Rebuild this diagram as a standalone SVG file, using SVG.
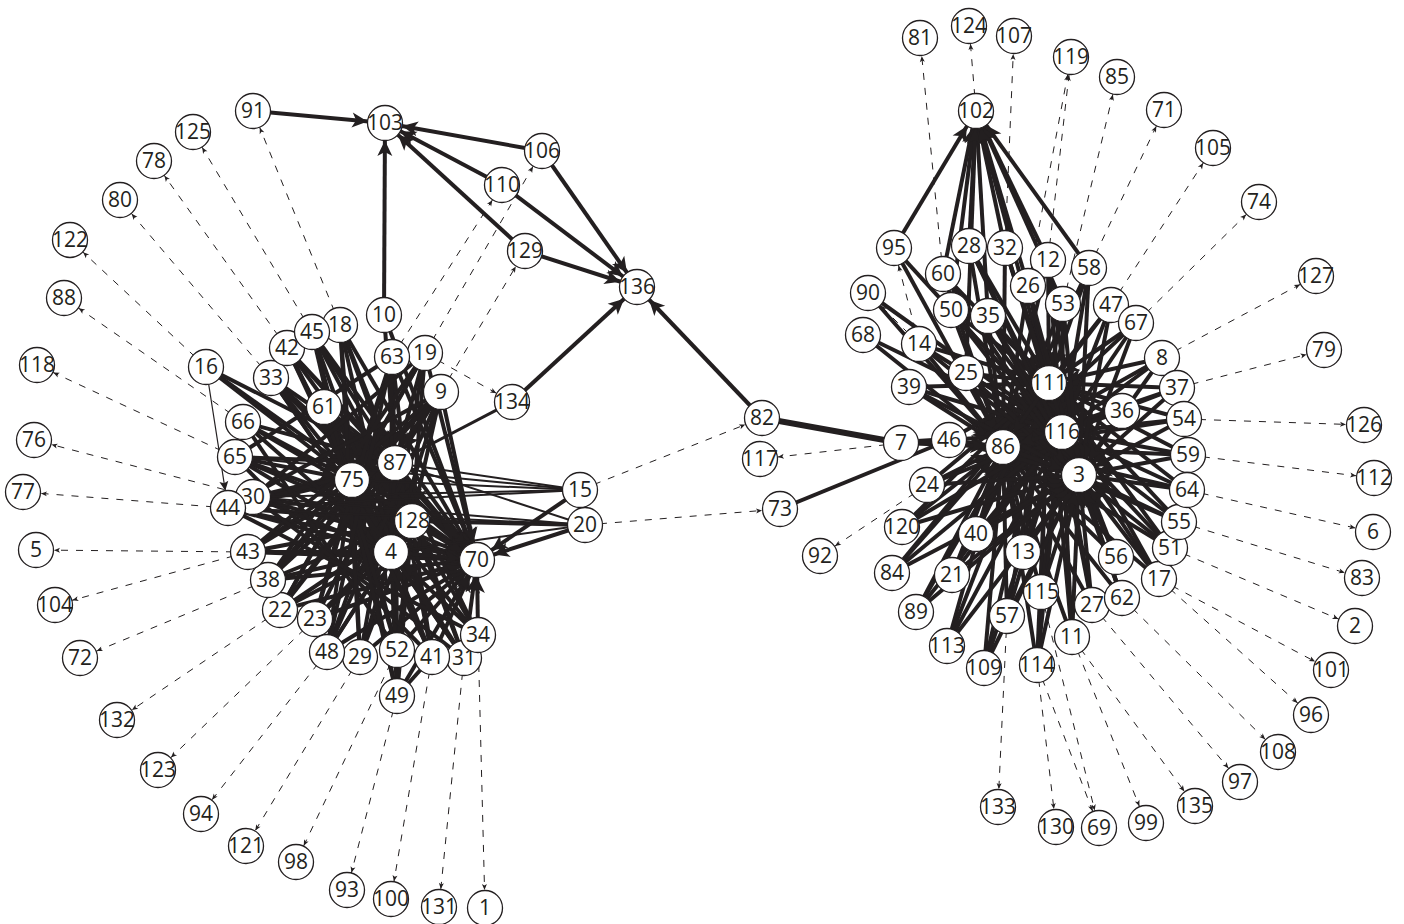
<svg xmlns="http://www.w3.org/2000/svg" width="1404" height="924" viewBox="0 0 1404 924">
<defs>
<style>
.e{stroke:#231f20;stroke-width:4;fill:none}
.w{stroke:#231f20;stroke-width:2;fill:none}
.d{stroke:#231f20;stroke-width:1;fill:none;stroke-dasharray:7 8}
.n circle{fill:#fff;stroke:#231f20;stroke-width:1.3}
.n text{font-family:"Open Sans","Liberation Sans",sans-serif;font-size:21px;fill:#231f20;text-anchor:middle}
</style>
<marker id="ah" markerUnits="userSpaceOnUse" viewBox="-40 -10 40 20" markerWidth="40" markerHeight="20" refX="0" refY="0" orient="auto" overflow="visible"><path d="M-17.5,0L-33,-7.5L-29,0L-33,7.5z" fill="#231f20"/></marker>
<marker id="mh" markerUnits="userSpaceOnUse" viewBox="-40 -10 40 20" markerWidth="40" markerHeight="20" refX="0" refY="0" orient="auto" overflow="visible"><path d="M-17.5,0L-27,-4.5L-25,0L-27,4.5z" fill="#231f20"/></marker>
<marker id="dh" markerUnits="userSpaceOnUse" viewBox="-40 -10 40 20" markerWidth="40" markerHeight="20" refX="0" refY="0" orient="auto" overflow="visible"><path d="M-18,0L-24,-2.5L-22.5,0L-24,2.5z" fill="#231f20"/></marker>
</defs>
<rect width="1404" height="924" fill="#fff"/>
<g id="connectors">
<g class="d" marker-end="url(#dh)">
<path d="M340 325L253 111"/><path d="M312 332L193 132"/><path d="M287 348L154 161"/><path d="M271 378L120 200"/><path d="M206 367L70 240"/><path d="M243 422L64 298"/><path d="M235 457L37 365"/><path d="M253 497L34 440"/><path d="M228 508L23 492"/><path d="M248 552L36 550"/><path d="M248 552L55 605"/><path d="M268 580L80 658"/><path d="M280 610L117 720"/><path d="M315 619L158 770"/><path d="M327 652L201 814"/><path d="M360 657L246 846"/><path d="M397 650L296 862"/><path d="M397 696L347 890"/><path d="M432 657L391 899"/><path d="M464 658L439 907"/><path d="M478 635L485 908"/>
<path d="M392 357L502 185"/><path d="M425 353L542 151"/><path d="M441 392L525 251"/><path d="M425 353L512 402"/><path d="M580 490L762 418"/><path d="M585 525L780 509"/>
<path d="M943 274L920 38"/><path d="M976 111L969 26"/><path d="M1005 248L1014 36"/><path d="M1048 260L1071 57"/><path d="M1028 286L1071 57"/><path d="M1063 304L1117 77"/><path d="M1089 268L1164 110"/><path d="M1111 305L1213 148"/><path d="M1136 323L1259 202"/><path d="M1162 358L1316 276"/><path d="M1177 388L1324 350"/><path d="M1184 419L1364 425"/><path d="M1188 455L1374 478"/><path d="M1187 490L1373 532"/><path d="M1179 522L1362 578"/><path d="M1170 548L1355 626"/><path d="M1159 579L1331 670"/><path d="M1159 579L1311 715"/><path d="M1122 598L1278 752"/><path d="M1092 605L1240 782"/><path d="M1072 637L1195 806"/><path d="M1072 637L1146 823"/><path d="M1037 665L1099 828"/><path d="M1041 592L1099 828"/><path d="M1037 665L1056 827"/><path d="M1007 616L998 807"/>
<path d="M901 443L760 459"/><path d="M927 485L820 556"/><path d="M919 344L868 293"/><path d="M919 344L894 248"/>
</g>
<g class="e" marker-end="url(#ah)">
<path d="M253 111L385 123"/><path d="M384 315L385 123"/><path d="M542 151L385 123"/><path d="M502 185L385 123"/><path d="M525 251L385 123"/><path d="M542 151L637 287"/><path d="M502 185L637 287"/><path d="M525 251L637 287"/><path d="M512 402L637 287"/><path d="M762 418L637 287"/>
<path d="M206 367L477 560"/><path d="M312 332L477 560"/><path d="M340 325L477 560"/><path d="M287 348L477 560"/><path d="M271 378L477 560"/><path d="M324 407L477 560"/><path d="M384 315L477 560"/><path d="M392 357L477 560"/><path d="M425 353L477 560"/><path d="M441 392L477 560"/><path d="M243 422L477 560"/><path d="M235 457L477 560"/><path d="M253 497L477 560"/><path d="M228 508L477 560"/><path d="M248 552L477 560"/><path d="M268 580L477 560"/><path d="M280 610L477 560"/><path d="M315 619L477 560"/><path d="M327 652L477 560"/><path d="M360 657L477 560"/><path d="M397 650L477 560"/><path d="M432 657L477 560"/><path d="M464 658L477 560"/><path d="M478 635L477 560"/><path d="M397 696L477 560"/>
<path d="M206 367L352 480"/><path d="M312 332L352 480"/><path d="M340 325L352 480"/><path d="M287 348L352 480"/><path d="M271 378L352 480"/><path d="M324 407L352 480"/><path d="M392 357L352 480"/><path d="M425 353L352 480"/><path d="M441 392L352 480"/><path d="M243 422L352 480"/><path d="M235 457L352 480"/><path d="M253 497L352 480"/><path d="M228 508L352 480"/><path d="M248 552L352 480"/><path d="M268 580L352 480"/><path d="M280 610L352 480"/><path d="M315 619L352 480"/><path d="M327 652L352 480"/><path d="M360 657L352 480"/><path d="M397 650L352 480"/><path d="M432 657L352 480"/><path d="M464 658L352 480"/><path d="M478 635L352 480"/><path d="M397 696L352 480"/>
<path d="M206 367L395 463"/><path d="M312 332L395 463"/><path d="M340 325L395 463"/><path d="M287 348L395 463"/><path d="M271 378L395 463"/><path d="M324 407L395 463"/><path d="M384 315L395 463"/><path d="M392 357L395 463"/><path d="M425 353L395 463"/><path d="M441 392L395 463"/><path d="M243 422L395 463"/><path d="M235 457L395 463"/><path d="M253 497L395 463"/><path d="M228 508L395 463"/><path d="M248 552L395 463"/><path d="M268 580L395 463"/><path d="M280 610L395 463"/><path d="M315 619L395 463"/><path d="M327 652L395 463"/><path d="M360 657L395 463"/><path d="M397 650L395 463"/><path d="M432 657L395 463"/><path d="M464 658L395 463"/><path d="M478 635L395 463"/><path d="M397 696L395 463"/>
<path d="M312 332L412 521"/><path d="M340 325L412 521"/><path d="M287 348L412 521"/><path d="M271 378L412 521"/><path d="M324 407L412 521"/><path d="M392 357L412 521"/><path d="M425 353L412 521"/><path d="M441 392L412 521"/><path d="M235 457L412 521"/><path d="M253 497L412 521"/><path d="M228 508L412 521"/><path d="M248 552L412 521"/><path d="M268 580L412 521"/><path d="M280 610L412 521"/><path d="M315 619L412 521"/><path d="M327 652L412 521"/><path d="M360 657L412 521"/><path d="M397 650L412 521"/><path d="M432 657L412 521"/><path d="M464 658L412 521"/><path d="M478 635L412 521"/><path d="M397 696L412 521"/>
<path d="M312 332L391 552"/><path d="M340 325L391 552"/><path d="M287 348L391 552"/><path d="M271 378L391 552"/><path d="M324 407L391 552"/><path d="M392 357L391 552"/><path d="M425 353L391 552"/><path d="M441 392L391 552"/><path d="M243 422L391 552"/><path d="M235 457L391 552"/><path d="M253 497L391 552"/><path d="M228 508L391 552"/><path d="M248 552L391 552"/><path d="M268 580L391 552"/><path d="M280 610L391 552"/><path d="M315 619L391 552"/><path d="M327 652L391 552"/><path d="M360 657L391 552"/><path d="M397 650L391 552"/><path d="M432 657L391 552"/><path d="M464 658L391 552"/><path d="M478 635L391 552"/><path d="M397 696L391 552"/>
<path d="M352 480L395 463"/><path d="M352 480L412 521"/><path d="M395 463L412 521"/><path d="M352 480L391 552"/><path d="M395 463L391 552"/><path d="M412 521L391 552"/><path d="M352 480L477 560"/><path d="M395 463L477 560"/><path d="M412 521L477 560"/><path d="M391 552L477 560"/>
<path d="M580 490L477 560"/><path d="M585 525L477 560"/><path d="M585 525L412 521"/>
<path d="M894 248L976 111"/><path d="M969 246L976 111"/><path d="M1005 248L976 111"/><path d="M1048 260L976 111"/><path d="M1089 268L976 111"/><path d="M943 274L976 111"/><path d="M1028 286L976 111"/><path d="M988 316L976 111"/><path d="M1063 304L976 111"/><path d="M951 310L976 111"/><path d="M966 373L976 111"/><path d="M1049 383L976 111"/>
<path d="M894 248L1003 447"/><path d="M969 246L1003 447"/><path d="M1005 248L1003 447"/><path d="M1048 260L1003 447"/><path d="M1089 268L1003 447"/><path d="M943 274L1003 447"/><path d="M1028 286L1003 447"/><path d="M1063 304L1003 447"/><path d="M868 293L1003 447"/><path d="M951 310L1003 447"/><path d="M988 316L1003 447"/><path d="M1111 305L1003 447"/><path d="M1136 323L1003 447"/><path d="M863 335L1003 447"/><path d="M919 344L1003 447"/><path d="M1162 358L1003 447"/><path d="M966 373L1003 447"/><path d="M909 387L1003 447"/><path d="M1177 388L1003 447"/><path d="M1122 411L1003 447"/><path d="M1184 419L1003 447"/><path d="M949 440L1003 447"/><path d="M1188 455L1003 447"/><path d="M927 485L1003 447"/><path d="M1187 490L1003 447"/><path d="M902 527L1003 447"/><path d="M976 534L1003 447"/><path d="M1023 552L1003 447"/><path d="M1116 557L1003 447"/><path d="M1179 522L1003 447"/><path d="M1170 548L1003 447"/><path d="M892 573L1003 447"/><path d="M952 575L1003 447"/><path d="M1159 579L1003 447"/><path d="M1041 592L1003 447"/><path d="M1122 598L1003 447"/><path d="M916 612L1003 447"/><path d="M1092 605L1003 447"/><path d="M1007 616L1003 447"/><path d="M1072 637L1003 447"/><path d="M947 646L1003 447"/><path d="M984 668L1003 447"/><path d="M1037 665L1003 447"/>
<path d="M969 246L1049 383"/><path d="M1005 248L1049 383"/><path d="M1048 260L1049 383"/><path d="M1089 268L1049 383"/><path d="M943 274L1049 383"/><path d="M1028 286L1049 383"/><path d="M1063 304L1049 383"/><path d="M951 310L1049 383"/><path d="M988 316L1049 383"/><path d="M1111 305L1049 383"/><path d="M1136 323L1049 383"/><path d="M919 344L1049 383"/><path d="M1162 358L1049 383"/><path d="M966 373L1049 383"/><path d="M909 387L1049 383"/><path d="M1177 388L1049 383"/><path d="M1122 411L1049 383"/><path d="M1184 419L1049 383"/><path d="M949 440L1049 383"/><path d="M1188 455L1049 383"/><path d="M927 485L1049 383"/><path d="M1187 490L1049 383"/><path d="M902 527L1049 383"/><path d="M976 534L1049 383"/><path d="M1023 552L1049 383"/><path d="M1116 557L1049 383"/><path d="M1179 522L1049 383"/><path d="M1170 548L1049 383"/><path d="M892 573L1049 383"/><path d="M952 575L1049 383"/><path d="M1159 579L1049 383"/><path d="M1041 592L1049 383"/><path d="M1122 598L1049 383"/><path d="M916 612L1049 383"/><path d="M1092 605L1049 383"/><path d="M1007 616L1049 383"/><path d="M1072 637L1049 383"/><path d="M947 646L1049 383"/><path d="M984 668L1049 383"/><path d="M1037 665L1049 383"/>
<path d="M894 248L1062 432"/><path d="M969 246L1062 432"/><path d="M1005 248L1062 432"/><path d="M1048 260L1062 432"/><path d="M1089 268L1062 432"/><path d="M943 274L1062 432"/><path d="M1028 286L1062 432"/><path d="M1063 304L1062 432"/><path d="M868 293L1062 432"/><path d="M951 310L1062 432"/><path d="M988 316L1062 432"/><path d="M1111 305L1062 432"/><path d="M1136 323L1062 432"/><path d="M863 335L1062 432"/><path d="M919 344L1062 432"/><path d="M1162 358L1062 432"/><path d="M966 373L1062 432"/><path d="M909 387L1062 432"/><path d="M1177 388L1062 432"/><path d="M1122 411L1062 432"/><path d="M1184 419L1062 432"/><path d="M949 440L1062 432"/><path d="M1188 455L1062 432"/><path d="M927 485L1062 432"/><path d="M1187 490L1062 432"/><path d="M902 527L1062 432"/><path d="M976 534L1062 432"/><path d="M1023 552L1062 432"/><path d="M1116 557L1062 432"/><path d="M1179 522L1062 432"/><path d="M1170 548L1062 432"/><path d="M892 573L1062 432"/><path d="M952 575L1062 432"/><path d="M1159 579L1062 432"/><path d="M1041 592L1062 432"/><path d="M1122 598L1062 432"/><path d="M916 612L1062 432"/><path d="M1092 605L1062 432"/><path d="M1007 616L1062 432"/><path d="M1072 637L1062 432"/><path d="M947 646L1062 432"/><path d="M984 668L1062 432"/><path d="M1037 665L1062 432"/>
<path d="M969 246L1079 475"/><path d="M1005 248L1079 475"/><path d="M1048 260L1079 475"/><path d="M1089 268L1079 475"/><path d="M943 274L1079 475"/><path d="M1028 286L1079 475"/><path d="M1063 304L1079 475"/><path d="M951 310L1079 475"/><path d="M988 316L1079 475"/><path d="M1111 305L1079 475"/><path d="M1136 323L1079 475"/><path d="M919 344L1079 475"/><path d="M1162 358L1079 475"/><path d="M966 373L1079 475"/><path d="M909 387L1079 475"/><path d="M1177 388L1079 475"/><path d="M1122 411L1079 475"/><path d="M1184 419L1079 475"/><path d="M949 440L1079 475"/><path d="M1188 455L1079 475"/><path d="M927 485L1079 475"/><path d="M1187 490L1079 475"/><path d="M902 527L1079 475"/><path d="M976 534L1079 475"/><path d="M1023 552L1079 475"/><path d="M1116 557L1079 475"/><path d="M1179 522L1079 475"/><path d="M1170 548L1079 475"/><path d="M892 573L1079 475"/><path d="M952 575L1079 475"/><path d="M1159 579L1079 475"/><path d="M1041 592L1079 475"/><path d="M1122 598L1079 475"/><path d="M916 612L1079 475"/><path d="M1092 605L1079 475"/><path d="M1007 616L1079 475"/><path d="M1072 637L1079 475"/><path d="M947 646L1079 475"/><path d="M984 668L1079 475"/><path d="M1037 665L1079 475"/>
<path d="M1049 383L1062 432"/><path d="M1049 383L1003 447"/><path d="M1049 383L1079 475"/><path d="M1062 432L1003 447"/><path d="M1062 432L1079 475"/><path d="M1003 447L1079 475"/><path d="M901 443L1003 447"/>
</g>
<g class="e">
<path d="M248 552L441 392"/><path d="M268 580L441 392"/><path d="M280 610L425 353"/><path d="M315 619L392 357"/><path d="M327 652L441 392"/><path d="M397 650L243 422"/><path d="M432 657L235 457"/><path d="M464 658L253 497"/><path d="M478 635L228 508"/><path d="M397 696L312 332"/><path d="M360 657L340 325"/><path d="M432 657L287 348"/><path d="M464 658L271 378"/><path d="M397 650L324 407"/><path d="M327 652L392 357"/><path d="M228 508L441 392"/><path d="M253 497L425 353"/><path d="M235 457L392 357"/><path d="M268 580L425 353"/><path d="M280 610L441 392"/><path d="M397 696L432 657"/>
<path d="M780 509L949 440"/><path d="M762 418L901 443" stroke-width="6"/><path d="M901 443L949 440" stroke-width="6"/><path d="M395 463L512 402" stroke-width="3"/>
</g>
<g class="w">
<path d="M580 490L352 480"/><path d="M580 490L395 463"/><path d="M580 490L253 497"/><path d="M580 490L228 508"/><path d="M580 490L235 457"/><path d="M585 525L391 552"/><path d="M585 525L253 497"/><path d="M585 525L228 508"/><path d="M585 525L395 463"/>
<path d="M206 367L228 508" stroke-width="1.2" marker-end="url(#mh)"/>
</g>
</g>
<g id="n1" class="n"><circle cx="485" cy="908" r="17.5"/><text x="485" y="915">1</text></g>
<g id="n2" class="n"><circle cx="1355" cy="626" r="17.5"/><text x="1355" y="633">2</text></g>
<g id="n3" class="n"><circle cx="1079" cy="475" r="17.5"/><text x="1079" y="482">3</text></g>
<g id="n4" class="n"><circle cx="391" cy="552" r="17.5"/><text x="391" y="559">4</text></g>
<g id="n5" class="n"><circle cx="36" cy="550" r="17.5"/><text x="36" y="557">5</text></g>
<g id="n6" class="n"><circle cx="1373" cy="532" r="17.5"/><text x="1373" y="539">6</text></g>
<g id="n7" class="n"><circle cx="901" cy="443" r="17.5"/><text x="901" y="450">7</text></g>
<g id="n8" class="n"><circle cx="1162" cy="358" r="17.5"/><text x="1162" y="365">8</text></g>
<g id="n9" class="n"><circle cx="441" cy="392" r="17.5"/><text x="441" y="399">9</text></g>
<g id="n10" class="n"><circle cx="384" cy="315" r="17.5"/><text x="384" y="322">10</text></g>
<g id="n11" class="n"><circle cx="1072" cy="637" r="17.5"/><text x="1072" y="644">11</text></g>
<g id="n12" class="n"><circle cx="1048" cy="260" r="17.5"/><text x="1048" y="267">12</text></g>
<g id="n13" class="n"><circle cx="1023" cy="552" r="17.5"/><text x="1023" y="559">13</text></g>
<g id="n14" class="n"><circle cx="919" cy="344" r="17.5"/><text x="919" y="351">14</text></g>
<g id="n15" class="n"><circle cx="580" cy="490" r="17.5"/><text x="580" y="497">15</text></g>
<g id="n16" class="n"><circle cx="206" cy="367" r="17.5"/><text x="206" y="374">16</text></g>
<g id="n17" class="n"><circle cx="1159" cy="579" r="17.5"/><text x="1159" y="586">17</text></g>
<g id="n18" class="n"><circle cx="340" cy="325" r="17.5"/><text x="340" y="332">18</text></g>
<g id="n19" class="n"><circle cx="425" cy="353" r="17.5"/><text x="425" y="360">19</text></g>
<g id="n20" class="n"><circle cx="585" cy="525" r="17.5"/><text x="585" y="532">20</text></g>
<g id="n21" class="n"><circle cx="952" cy="575" r="17.5"/><text x="952" y="582">21</text></g>
<g id="n22" class="n"><circle cx="280" cy="610" r="17.5"/><text x="280" y="617">22</text></g>
<g id="n23" class="n"><circle cx="315" cy="619" r="17.5"/><text x="315" y="626">23</text></g>
<g id="n24" class="n"><circle cx="927" cy="485" r="17.5"/><text x="927" y="492">24</text></g>
<g id="n25" class="n"><circle cx="966" cy="373" r="17.5"/><text x="966" y="380">25</text></g>
<g id="n26" class="n"><circle cx="1028" cy="286" r="17.5"/><text x="1028" y="293">26</text></g>
<g id="n27" class="n"><circle cx="1092" cy="605" r="17.5"/><text x="1092" y="612">27</text></g>
<g id="n28" class="n"><circle cx="969" cy="246" r="17.5"/><text x="969" y="253">28</text></g>
<g id="n29" class="n"><circle cx="360" cy="657" r="17.5"/><text x="360" y="664">29</text></g>
<g id="n30" class="n"><circle cx="253" cy="497" r="17.5"/><text x="253" y="504">30</text></g>
<g id="n31" class="n"><circle cx="464" cy="658" r="17.5"/><text x="464" y="665">31</text></g>
<g id="n32" class="n"><circle cx="1005" cy="248" r="17.5"/><text x="1005" y="255">32</text></g>
<g id="n33" class="n"><circle cx="271" cy="378" r="17.5"/><text x="271" y="385">33</text></g>
<g id="n34" class="n"><circle cx="478" cy="635" r="17.5"/><text x="478" y="642">34</text></g>
<g id="n35" class="n"><circle cx="988" cy="316" r="17.5"/><text x="988" y="323">35</text></g>
<g id="n36" class="n"><circle cx="1122" cy="411" r="17.5"/><text x="1122" y="418">36</text></g>
<g id="n37" class="n"><circle cx="1177" cy="388" r="17.5"/><text x="1177" y="395">37</text></g>
<g id="n38" class="n"><circle cx="268" cy="580" r="17.5"/><text x="268" y="587">38</text></g>
<g id="n39" class="n"><circle cx="909" cy="387" r="17.5"/><text x="909" y="394">39</text></g>
<g id="n40" class="n"><circle cx="976" cy="534" r="17.5"/><text x="976" y="541">40</text></g>
<g id="n41" class="n"><circle cx="432" cy="657" r="17.5"/><text x="432" y="664">41</text></g>
<g id="n42" class="n"><circle cx="287" cy="348" r="17.5"/><text x="287" y="355">42</text></g>
<g id="n43" class="n"><circle cx="248" cy="552" r="17.5"/><text x="248" y="559">43</text></g>
<g id="n44" class="n"><circle cx="228" cy="508" r="17.5"/><text x="228" y="515">44</text></g>
<g id="n45" class="n"><circle cx="312" cy="332" r="17.5"/><text x="312" y="339">45</text></g>
<g id="n46" class="n"><circle cx="949" cy="440" r="17.5"/><text x="949" y="447">46</text></g>
<g id="n47" class="n"><circle cx="1111" cy="305" r="17.5"/><text x="1111" y="312">47</text></g>
<g id="n48" class="n"><circle cx="327" cy="652" r="17.5"/><text x="327" y="659">48</text></g>
<g id="n49" class="n"><circle cx="397" cy="696" r="17.5"/><text x="397" y="703">49</text></g>
<g id="n50" class="n"><circle cx="951" cy="310" r="17.5"/><text x="951" y="317">50</text></g>
<g id="n51" class="n"><circle cx="1170" cy="548" r="17.5"/><text x="1170" y="555">51</text></g>
<g id="n52" class="n"><circle cx="397" cy="650" r="17.5"/><text x="397" y="657">52</text></g>
<g id="n53" class="n"><circle cx="1063" cy="304" r="17.5"/><text x="1063" y="311">53</text></g>
<g id="n54" class="n"><circle cx="1184" cy="419" r="17.5"/><text x="1184" y="426">54</text></g>
<g id="n55" class="n"><circle cx="1179" cy="522" r="17.5"/><text x="1179" y="529">55</text></g>
<g id="n56" class="n"><circle cx="1116" cy="557" r="17.5"/><text x="1116" y="564">56</text></g>
<g id="n57" class="n"><circle cx="1007" cy="616" r="17.5"/><text x="1007" y="623">57</text></g>
<g id="n58" class="n"><circle cx="1089" cy="268" r="17.5"/><text x="1089" y="275">58</text></g>
<g id="n59" class="n"><circle cx="1188" cy="455" r="17.5"/><text x="1188" y="462">59</text></g>
<g id="n60" class="n"><circle cx="943" cy="274" r="17.5"/><text x="943" y="281">60</text></g>
<g id="n61" class="n"><circle cx="324" cy="407" r="17.5"/><text x="324" y="414">61</text></g>
<g id="n62" class="n"><circle cx="1122" cy="598" r="17.5"/><text x="1122" y="605">62</text></g>
<g id="n63" class="n"><circle cx="392" cy="357" r="17.5"/><text x="392" y="364">63</text></g>
<g id="n64" class="n"><circle cx="1187" cy="490" r="17.5"/><text x="1187" y="497">64</text></g>
<g id="n65" class="n"><circle cx="235" cy="457" r="17.5"/><text x="235" y="464">65</text></g>
<g id="n66" class="n"><circle cx="243" cy="422" r="17.5"/><text x="243" y="429">66</text></g>
<g id="n67" class="n"><circle cx="1136" cy="323" r="17.5"/><text x="1136" y="330">67</text></g>
<g id="n68" class="n"><circle cx="863" cy="335" r="17.5"/><text x="863" y="342">68</text></g>
<g id="n69" class="n"><circle cx="1099" cy="828" r="17.5"/><text x="1099" y="835">69</text></g>
<g id="n70" class="n"><circle cx="477" cy="560" r="17.5"/><text x="477" y="567">70</text></g>
<g id="n71" class="n"><circle cx="1164" cy="110" r="17.5"/><text x="1164" y="117">71</text></g>
<g id="n72" class="n"><circle cx="80" cy="658" r="17.5"/><text x="80" y="665">72</text></g>
<g id="n73" class="n"><circle cx="780" cy="509" r="17.5"/><text x="780" y="516">73</text></g>
<g id="n74" class="n"><circle cx="1259" cy="202" r="17.5"/><text x="1259" y="209">74</text></g>
<g id="n75" class="n"><circle cx="352" cy="480" r="17.5"/><text x="352" y="487">75</text></g>
<g id="n76" class="n"><circle cx="34" cy="440" r="17.5"/><text x="34" y="447">76</text></g>
<g id="n77" class="n"><circle cx="23" cy="492" r="17.5"/><text x="23" y="499">77</text></g>
<g id="n78" class="n"><circle cx="154" cy="161" r="17.5"/><text x="154" y="168">78</text></g>
<g id="n79" class="n"><circle cx="1324" cy="350" r="17.5"/><text x="1324" y="357">79</text></g>
<g id="n80" class="n"><circle cx="120" cy="200" r="17.5"/><text x="120" y="207">80</text></g>
<g id="n81" class="n"><circle cx="920" cy="38" r="17.5"/><text x="920" y="45">81</text></g>
<g id="n82" class="n"><circle cx="762" cy="418" r="17.5"/><text x="762" y="425">82</text></g>
<g id="n83" class="n"><circle cx="1362" cy="578" r="17.5"/><text x="1362" y="585">83</text></g>
<g id="n84" class="n"><circle cx="892" cy="573" r="17.5"/><text x="892" y="580">84</text></g>
<g id="n85" class="n"><circle cx="1117" cy="77" r="17.5"/><text x="1117" y="84">85</text></g>
<g id="n86" class="n"><circle cx="1003" cy="447" r="17.5"/><text x="1003" y="454">86</text></g>
<g id="n87" class="n"><circle cx="395" cy="463" r="17.5"/><text x="395" y="470">87</text></g>
<g id="n88" class="n"><circle cx="64" cy="298" r="17.5"/><text x="64" y="305">88</text></g>
<g id="n89" class="n"><circle cx="916" cy="612" r="17.5"/><text x="916" y="619">89</text></g>
<g id="n90" class="n"><circle cx="868" cy="293" r="17.5"/><text x="868" y="300">90</text></g>
<g id="n91" class="n"><circle cx="253" cy="111" r="17.5"/><text x="253" y="118">91</text></g>
<g id="n92" class="n"><circle cx="820" cy="556" r="17.5"/><text x="820" y="563">92</text></g>
<g id="n93" class="n"><circle cx="347" cy="890" r="17.5"/><text x="347" y="897">93</text></g>
<g id="n94" class="n"><circle cx="201" cy="814" r="17.5"/><text x="201" y="821">94</text></g>
<g id="n95" class="n"><circle cx="894" cy="248" r="17.5"/><text x="894" y="255">95</text></g>
<g id="n96" class="n"><circle cx="1311" cy="715" r="17.5"/><text x="1311" y="722">96</text></g>
<g id="n97" class="n"><circle cx="1240" cy="782" r="17.5"/><text x="1240" y="789">97</text></g>
<g id="n98" class="n"><circle cx="296" cy="862" r="17.5"/><text x="296" y="869">98</text></g>
<g id="n99" class="n"><circle cx="1146" cy="823" r="17.5"/><text x="1146" y="830">99</text></g>
<g id="n100" class="n"><circle cx="391" cy="899" r="17.5"/><text x="391" y="906">100</text></g>
<g id="n101" class="n"><circle cx="1331" cy="670" r="17.5"/><text x="1331" y="677">101</text></g>
<g id="n102" class="n"><circle cx="976" cy="111" r="17.5"/><text x="976" y="118">102</text></g>
<g id="n103" class="n"><circle cx="385" cy="123" r="17.5"/><text x="385" y="130">103</text></g>
<g id="n104" class="n"><circle cx="55" cy="605" r="17.5"/><text x="55" y="612">104</text></g>
<g id="n105" class="n"><circle cx="1213" cy="148" r="17.5"/><text x="1213" y="155">105</text></g>
<g id="n106" class="n"><circle cx="542" cy="151" r="17.5"/><text x="542" y="158">106</text></g>
<g id="n107" class="n"><circle cx="1014" cy="36" r="17.5"/><text x="1014" y="43">107</text></g>
<g id="n108" class="n"><circle cx="1278" cy="752" r="17.5"/><text x="1278" y="759">108</text></g>
<g id="n109" class="n"><circle cx="984" cy="668" r="17.5"/><text x="984" y="675">109</text></g>
<g id="n110" class="n"><circle cx="502" cy="185" r="17.5"/><text x="502" y="192">110</text></g>
<g id="n111" class="n"><circle cx="1049" cy="383" r="17.5"/><text x="1049" y="390">111</text></g>
<g id="n112" class="n"><circle cx="1374" cy="478" r="17.5"/><text x="1374" y="485">112</text></g>
<g id="n113" class="n"><circle cx="947" cy="646" r="17.5"/><text x="947" y="653">113</text></g>
<g id="n114" class="n"><circle cx="1037" cy="665" r="17.5"/><text x="1037" y="672">114</text></g>
<g id="n115" class="n"><circle cx="1041" cy="592" r="17.5"/><text x="1041" y="599">115</text></g>
<g id="n116" class="n"><circle cx="1062" cy="432" r="17.5"/><text x="1062" y="439">116</text></g>
<g id="n117" class="n"><circle cx="760" cy="459" r="17.5"/><text x="760" y="466">117</text></g>
<g id="n118" class="n"><circle cx="37" cy="365" r="17.5"/><text x="37" y="372">118</text></g>
<g id="n119" class="n"><circle cx="1071" cy="57" r="17.5"/><text x="1071" y="64">119</text></g>
<g id="n120" class="n"><circle cx="902" cy="527" r="17.5"/><text x="902" y="534">120</text></g>
<g id="n121" class="n"><circle cx="246" cy="846" r="17.5"/><text x="246" y="853">121</text></g>
<g id="n122" class="n"><circle cx="70" cy="240" r="17.5"/><text x="70" y="247">122</text></g>
<g id="n123" class="n"><circle cx="158" cy="770" r="17.5"/><text x="158" y="777">123</text></g>
<g id="n124" class="n"><circle cx="969" cy="26" r="17.5"/><text x="969" y="33">124</text></g>
<g id="n125" class="n"><circle cx="193" cy="132" r="17.5"/><text x="193" y="139">125</text></g>
<g id="n126" class="n"><circle cx="1364" cy="425" r="17.5"/><text x="1364" y="432">126</text></g>
<g id="n127" class="n"><circle cx="1316" cy="276" r="17.5"/><text x="1316" y="283">127</text></g>
<g id="n128" class="n"><circle cx="412" cy="521" r="17.5"/><text x="412" y="528">128</text></g>
<g id="n129" class="n"><circle cx="525" cy="251" r="17.5"/><text x="525" y="258">129</text></g>
<g id="n130" class="n"><circle cx="1056" cy="827" r="17.5"/><text x="1056" y="834">130</text></g>
<g id="n131" class="n"><circle cx="439" cy="907" r="17.5"/><text x="439" y="914">131</text></g>
<g id="n132" class="n"><circle cx="117" cy="720" r="17.5"/><text x="117" y="727">132</text></g>
<g id="n133" class="n"><circle cx="998" cy="807" r="17.5"/><text x="998" y="814">133</text></g>
<g id="n134" class="n"><circle cx="512" cy="402" r="17.5"/><text x="512" y="409">134</text></g>
<g id="n135" class="n"><circle cx="1195" cy="806" r="17.5"/><text x="1195" y="813">135</text></g>
<g id="n136" class="n"><circle cx="637" cy="287" r="17.5"/><text x="637" y="294">136</text></g>
</svg>
